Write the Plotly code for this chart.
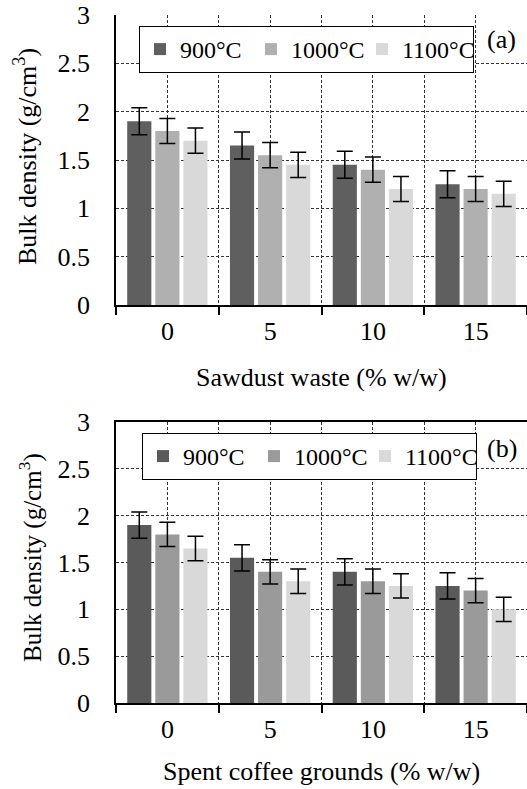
import plotly.graph_objects as go

categories = ['0', '5', '10', '15']
series_names = ['900°C', '1000°C', '1100°C']

# Panel (a): sawdust waste
a_900 = [1.90, 1.65, 1.45, 1.25]
a_900_err = [0.14, 0.14, 0.14, 0.14]
a_1000 = [1.80, 1.55, 1.40, 1.20]
a_1000_err = [0.13, 0.13, 0.13, 0.13]
a_1100 = [1.70, 1.45, 1.20, 1.15]
a_1100_err = [0.13, 0.13, 0.13, 0.13]

# Panel (b): spent coffee grounds
b_900 = [1.90, 1.55, 1.40, 1.25]
b_900_err = [0.14, 0.14, 0.14, 0.14]
b_1000 = [1.80, 1.40, 1.30, 1.20]
b_1000_err = [0.13, 0.13, 0.13, 0.13]
b_1100 = [1.65, 1.30, 1.25, 1.00]
b_1100_err = [0.13, 0.13, 0.13, 0.13]

xpos = list(range(len(categories)))
FONT = "Liberation Serif, Times New Roman, Times, DejaVu Serif, serif"

colors_a = ['#5f5f5f', '#b0b0b0', '#d9d9d9']
colors_b = ['#5a5a5a', '#9a9a9a', '#d9d9d9']

fig = go.Figure()

def add_panel(vals, errs, colors, xa, ya, legend):
    for name, v, e, c in zip(series_names, vals, errs, colors):
        fig.add_trace(go.Bar(
            x=xpos, y=v, name=name, xaxis=xa, yaxis=ya, legend=legend,
            marker=dict(color=c, line=dict(width=0)),
            error_y=dict(type='data', array=e, color='black', thickness=1.5, width=8),
        ))

add_panel([a_900, a_1000, a_1100], [a_900_err, a_1000_err, a_1100_err], colors_a, 'x', 'y', 'legend')
add_panel([b_900, b_1000, b_1100], [b_900_err, b_1000_err, b_1100_err], colors_b, 'x2', 'y2', 'legend2')

grid = dict(gridcolor='#333333', griddash='3px,2px', gridwidth=1)

def xaxis_cfg(anchor, mirror):
    return dict(
        anchor=anchor, range=[-0.5, 3.5], tickvals=xpos, ticktext=categories,
        ticks='', showgrid=True, **grid, automargin=False,
        showline=True, linecolor='black', linewidth=1.5, mirror=mirror,
        zeroline=False, ticklabelstandoff=2,
        minor=dict(tickvals=[-0.5, 0.5, 1.5, 2.5, 3.5], ticks='outside', ticklen=8,
                   tickcolor='black', tickwidth=1.5, showgrid=True, **grid),
        tickfont=dict(size=26, family=FONT),
    )

def yaxis_cfg(anchor, domain):
    return dict(
        anchor=anchor, domain=domain, range=[0, 3], tickvals=[0, 0.5, 1, 1.5, 2, 2.5, 3],
        ticktext=['0', '0.5', '1', '1.5', '2', '2.5', '3'], automargin=False,
        showgrid=True, **grid, zeroline=False,
        showline=True, linecolor='black', linewidth=1.5, ticks='',
        ticklabelstandoff=19, tickfont=dict(size=26, family=FONT),
    )

legend_common = dict(orientation='h', xanchor='left', yanchor='top', bordercolor='black',
                     borderwidth=1, bgcolor='white', font=dict(size=24, family=FONT),
                     itemwidth=30, tracegroupgap=0, entrywidth=66)

def ann(text, x, y, angle=0, size=26):
    return dict(text=text, textangle=angle, x=x, y=y, xref='paper', yref='paper',
                xanchor='center', yanchor='middle', showarrow=False,
                font=dict(size=size, family=FONT))

def px_x(p):
    return (p - 116) / 411

def px_y(p):
    return (703 - p) / 688

fig.update_layout(
    width=527, height=789,
    margin=dict(l=116, r=0, t=15, b=86, autoexpand=False),
    paper_bgcolor='white', plot_bgcolor='white',
    font=dict(family=FONT, size=26, color='black'),
    barmode='group', bargap=0.18, bargroupgap=0.14,
    showlegend=True,
    xaxis=xaxis_cfg('y', False),
    yaxis=yaxis_cfg('x', [px_y(305), 1.0]),
    xaxis2=xaxis_cfg('y2', True),
    yaxis2=yaxis_cfg('x2', [0.0, px_y(422)]),
    legend=dict(x=px_x(139), y=px_y(26), **legend_common),
    legend2=dict(x=px_x(142), y=px_y(433), **legend_common),
    annotations=[
        ann('Bulk density (g/cm<sup>3</sup>)', px_x(25), px_y(157), -90),
        ann('Bulk density (g/cm<sup>3</sup>)', px_x(30), px_y(558), -90, 25),
        ann('Sawdust waste (% w/w)', 0.5, px_y(377)),
        ann('Spent coffee grounds (% w/w)', 0.5, px_y(771)),
        ann('(a)', px_x(501), px_y(40)),
        ann('(b)', px_x(502), px_y(448)),
    ],
)

fig.write_html("out.html", config={'displayModeBar': False},
               post_script="document.body.style.margin='0';document.body.style.overflow='hidden';")
